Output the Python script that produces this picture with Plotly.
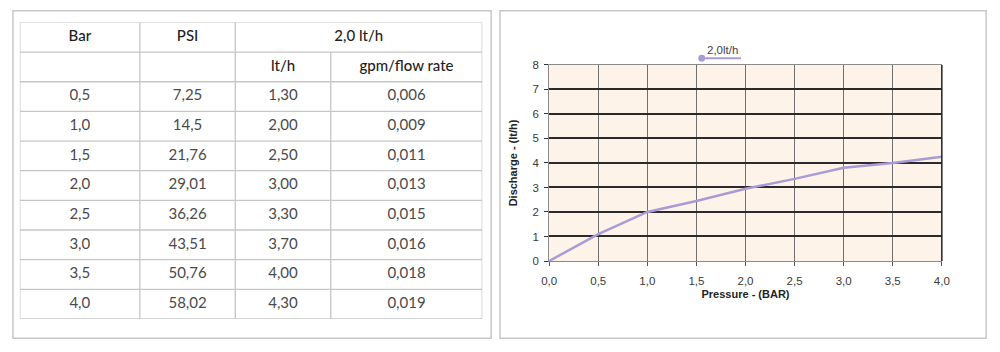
import plotly.graph_objects as go

# ---------------- data ----------------
bar_values = ["0,5", "1,0", "1,5", "2,0", "2,5", "3,0", "3,5", "4,0"]
psi_values = ["7,25", "14,5", "21,76", "29,01", "36,26", "43,51", "50,76", "58,02"]
lth_values = ["1,30", "2,00", "2,50", "3,00", "3,30", "3,70", "4,00", "4,30"]
gpm_values = ["0,006", "0,009", "0,011", "0,013", "0,015", "0,016", "0,018", "0,019"]
left_headers = ["Bar", "PSI"]
group_header = "2,0 lt/h"
right_headers = ["lt/h", "gpm/flow rate"]

pressure = [0.0, 0.5, 1.0, 1.5, 2.0, 2.5, 3.0, 3.5, 4.0]
discharge = [0.0, 1.1, 2.0, 2.45, 2.95, 3.35, 3.8, 4.0, 4.25]
series_name = "2,0lt/h"
x_tickvals = [0.0, 0.5, 1.0, 1.5, 2.0, 2.5, 3.0, 3.5, 4.0]
y_tickvals = [0, 1, 2, 3, 4, 5, 6, 7, 8]
x_title = "Pressure - (BAR)"
y_title = "Discharge - (lt/h)"

# ---------------- styles ----------------
W, H = 1000, 352
LINE_COLOR = "#a99bd6"
PLOT_BG = "#fdf3e8"
TABLE_FONT = "Lato, 'Open Sans', sans-serif"
CHART_FONT = "Arial, 'Liberation Sans', sans-serif"
COL_WIDTHS = [122, 97, 97, 154]       # relative column widths of the table
BORDER = dict(color="#c6c6c6", width=1.3)


def px(x):
    return x / W


def py(y):
    return 1 - y / H


fig = go.Figure()

# ---------------- table (drawn on its own x2/y2 axes: x = column units, y = row index) ----------------
columns = [bar_values, psi_values, lth_values, gpm_values]
n_header_rows = 2
n_rows = n_header_rows + len(bar_values)
edges = [0]
for w in COL_WIDTHS:
    edges.append(edges[-1] + w)
centers = [(edges[i] + edges[i + 1]) / 2 for i in range(len(COL_WIDTHS))]

# cell borders
bx, by = [], []
for r in range(n_rows + 1):
    bx += [edges[0], edges[-1], None]
    by += [r, r, None]
for ci, e in enumerate(edges):
    start = 1 if ci == 3 else 0          # divider between the two flow columns starts under the group header
    bx += [e, e, None]
    by += [start, n_rows, None]
fig.add_trace(go.Scatter(x=bx, y=by, mode="lines", line=BORDER, xaxis="x2", yaxis="y2",
                         hoverinfo="skip", showlegend=False))

# header texts
hx = [centers[0], centers[1], (edges[2] + edges[4]) / 2, centers[2], centers[3]]
hy = [0.5, 0.5, 0.5, 1.5, 1.5]
ht = left_headers + [group_header] + right_headers
fig.add_trace(go.Scatter(x=hx, y=hy, text=ht, mode="text", textposition="middle center",
                         textfont=dict(family=TABLE_FONT, size=15, color="#1e1e1e", weight=500),
                         xaxis="x2", yaxis="y2", hoverinfo="skip", showlegend=False))

# body texts
cx, cy, ct = [], [], []
for ci, col in enumerate(columns):
    for ri, v in enumerate(col):
        cx.append(centers[ci])
        cy.append(n_header_rows + ri + 0.5)
        ct.append(v)
fig.add_trace(go.Scatter(x=cx, y=cy, text=ct, mode="text", textposition="middle center",
                         textfont=dict(family=TABLE_FONT, size=15, color="#4a4a4a"),
                         xaxis="x2", yaxis="y2", hoverinfo="skip", showlegend=False))

# ---------------- chart ----------------
fig.add_trace(go.Scatter(
    x=pressure, y=discharge, mode="lines", name=series_name,
    line=dict(color=LINE_COLOR, width=2.5),
    showlegend=False,
))

shapes = [
    # panel frames
    dict(type="rect", xref="paper", yref="paper", x0=px(5), x1=px(491), y0=py(344), y1=py(5),
         line=dict(color="#c8c8c8", width=1.5), layer="below"),
    dict(type="rect", xref="paper", yref="paper", x0=px(500), x1=px(994), y0=py(344), y1=py(5),
         line=dict(color="#c8c8c8", width=1.5), layer="below"),
    # chart plot-area background
    dict(type="rect", xref="x domain", yref="y domain", x0=0, x1=1, y0=0, y1=1,
         fillcolor=PLOT_BG, line=dict(width=0), layer="below"),
    # right plot border
    dict(type="line", xref="x domain", yref="y domain", x0=1, x1=1, y0=0, y1=1,
         line=dict(color="#222222", width=1.5), layer="above"),
    # legend glyph
    dict(type="line", xref="paper", yref="paper", x0=px(705), x1=px(745), y0=py(54), y1=py(54),
         line=dict(color=LINE_COLOR, width=2)),
    dict(type="circle", xref="paper", yref="paper", x0=px(701.5), x1=px(708.5), y0=py(57.5), y1=py(50.5),
         fillcolor=LINE_COLOR, line=dict(width=0)),
]

annotations = [
    dict(text=series_name, xref="paper", yref="paper", x=px(726), y=py(45.5),
         showarrow=False, font=dict(family=CHART_FONT, size=11.5, color="#444444"),
         xanchor="center", yanchor="middle"),
]

fig.update_layout(
    width=W, height=H,
    margin=dict(l=0, r=0, t=0, b=0),
    paper_bgcolor="white",
    plot_bgcolor="white",
    separators=",.",
    showlegend=False,
    shapes=shapes,
    annotations=annotations,
    xaxis=dict(
        domain=[px(550), px(949)],
        range=[0, 4],
        tickvals=x_tickvals,
        tickformat=".1f",
        showgrid=True, gridcolor="#6f6f6f", gridwidth=1.3,
        zeroline=False,
        showline=True, linecolor="#8a8a8a", linewidth=1, mirror=True,
        ticks="outside", ticklen=4, tickcolor="#555555",
        ticklabelstandoff=5,
        tickfont=dict(family=CHART_FONT, size=11.5, color="#3a3a3a"),
        title=dict(text="<b>" + x_title + "</b>", font=dict(family=CHART_FONT, size=11, color="#222222"),
                   standoff=4),
        fixedrange=True,
    ),
    yaxis=dict(
        domain=[py(264), py(61)],
        range=[0, 8],
        tickvals=y_tickvals,
        showgrid=True, gridcolor="#2a2a2a", gridwidth=1.6,
        zeroline=False,
        showline=True, linecolor="#8a8a8a", linewidth=1,
        ticks="outside", ticklen=4, tickcolor="#333333",
        ticklabelstandoff=3,
        tickfont=dict(family=CHART_FONT, size=11.5, color="#3a3a3a"),
        title=dict(text="<b>" + y_title + "</b>", font=dict(family=CHART_FONT, size=11, color="#222222"),
                   standoff=12),
        fixedrange=True,
    ),
    xaxis2=dict(domain=[px(12), px(482)], range=[edges[0], edges[-1]], anchor="y2",
                visible=False, fixedrange=True),
    yaxis2=dict(domain=[py(324), py(17)], range=[n_rows, 0], anchor="x2",
                visible=False, fixedrange=True),
)

fig.write_html("out.html", config={"displayModeBar": False})
